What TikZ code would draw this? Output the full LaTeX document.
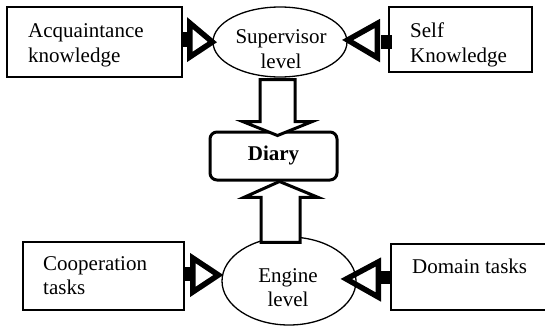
\documentclass[tikz,border=0pt]{standalone}
\usepackage{fontspec}
\setmainfont{Liberation Serif}
\usetikzlibrary{shapes.geometric,calc}
\begin{document}
\begin{tikzpicture}[x=1pt,y=-1pt,
  box/.style={draw,line width=1.5pt,rectangle,inner sep=0pt},
  oval/.style={draw,line width=1.3pt,ellipse,inner sep=0pt},
  diarybox/.style={draw,line width=3pt,rectangle,rounded corners=7pt,inner sep=0pt},
  txt/.style={font=\fontsize{21}{25}\selectfont,inner sep=0pt},
  tri/.style={draw,line width=5.5pt,line join=miter,miter limit=10},
  hollow/.style={draw,fill=white,line width=3pt,line join=miter,miter limit=10}]
\useasboundingbox (0,0) rectangle (545,327);
% boxes
\node[box,minimum width=175pt,minimum height=70pt] (acq) at (94.5,42) {};
\node[box,minimum width=143pt,minimum height=65pt] (self) at (460.5,39.5) {};
\node[box,minimum width=161pt,minimum height=68pt] (coop) at (103.5,276) {};
\node[box,minimum width=158pt,minimum height=66pt] (dom) at (470,277) {};
\node[oval,minimum width=134pt,minimum height=70pt] (sup) at (280,42) {};
\node[oval,minimum width=134pt,minimum height=88pt] (eng) at (289,281) {};
\node[diarybox,minimum width=127pt,minimum height=48pt] (diary) at (273.5,156) {};
% texts
\node[txt,anchor=base west] (t1) at (28,37.5) {Acquaintance};
\node[txt,anchor=base west] (t2) at (28,62.5) {knowledge};
\node[txt,anchor=base west] (t3) at (410,37.5) {Self};
\node[txt,anchor=base west] (t4) at (410,62.5) {Knowledge};
\node[txt,anchor=base] (t5) at (281,43) {Supervisor};
\node[txt,anchor=base] (t6) at (281,68) {level};
\node[txt,anchor=base] (t7) at (273.5,160) {\bfseries Diary};
\node[txt,anchor=base west] (t8) at (43,270) {Cooperation};
\node[txt,anchor=base west] (t9) at (43,294) {tasks};
\node[txt,anchor=base] (t10) at (288,282) {Engine};
\node[txt,anchor=base] (t11) at (288,306) {level};
\node[txt,anchor=base west] (t12) at (412,273) {Domain tasks};
% hollow arrows
\coordinate (dtip) at ($(diary.north)+(4,5)$);
\draw[hollow] ($(sup.south)+(-20,2)$) -- ($(sup.south)+(15,2)$) -- ($(sup.south)+(15,44)$)
  -- ($(sup.south)+(32,44)$) -- (dtip) -- ($(sup.south)+(-37,44)$)
  -- ($(sup.south)+(-20,44)$) -- cycle;
\coordinate (utip) at ($(diary.south)+(6,0)$);
\draw[hollow] ($(eng.north)+(-28,6)$) -- ($(eng.north)+(11,6)$) -- ($(eng.north)+(11,-39)$)
  -- ($(eng.north)+(29,-39)$) -- (utip) -- ($(eng.north)+(-45,-39)$)
  -- ($(eng.north)+(-28,-39)$) -- cycle;
% connectors: acquaintance -> supervisor
\fill ($(acq.east)+(-2,-10)$) rectangle ($(acq.east)+(8,5)$);
\draw[tri] ($(acq.east)+(7,-19)$) -- (sup.west) -- ($(acq.east)+(7,15)$) -- cycle;
% self -> supervisor
\fill ($(self.west)+(-7,-5)$) rectangle ($(self.west)+(4,9)$);
\draw[tri] ($(self.west)+(-11,-16)$) -- ($(sup.east)+(0,-2)$) -- ($(self.west)+(-11,18)$) -- cycle;
% cooperation -> engine
\fill ($(coop.east)+(-1,-9)$) rectangle ($(coop.east)+(9,5)$);
\draw[tri] ($(coop.east)+(8,-18)$) -- ($(eng.west)+(-3,-6)$) -- ($(coop.east)+(8,16)$) -- cycle;
% domain -> engine
\fill ($(dom.west)+(-12,-6)$) rectangle ($(dom.west)+(1,7)$);
\draw[tri] ($(dom.west)+(-12,-15)$) -- ($(eng.west)+(125,-2)$) -- ($(dom.west)+(-12,20)$) -- cycle;
\end{tikzpicture}
\end{document}
